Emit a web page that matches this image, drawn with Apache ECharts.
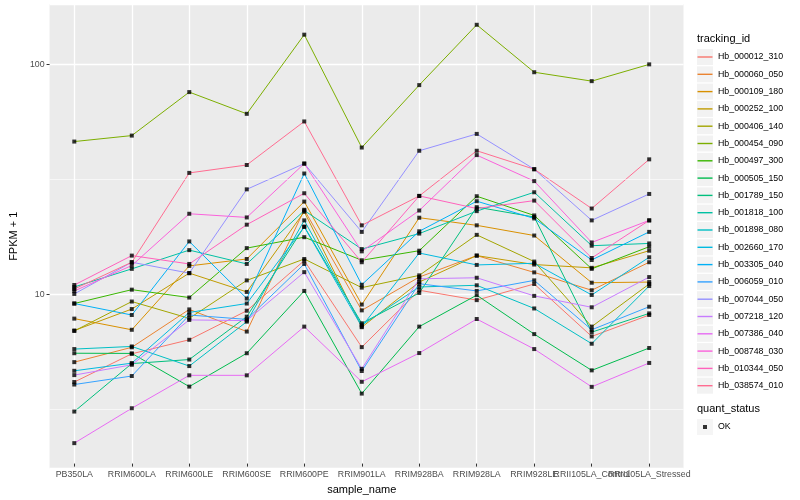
<!DOCTYPE html>
<html><head><meta charset="utf-8">
<script src="https://cdn.jsdelivr.net/npm/echarts@6/dist/echarts.min.js"></script>
<style>html,body{margin:0;padding:0;background:#fff}#c{width:800px;height:500px}</style>
</head><body><div id="c"></div>
<script>
const categories = ['PB350LA','RRIM600LA','RRIM600LE','RRIM600SE','RRIM600PE','RRIM901LA','RRIM928BA','RRIM928LA','RRIM928LE','RRII105LA_Control','RRII105LA_Stressed'];
const trackingIds = ['Hb_000012_310','Hb_000060_050','Hb_000109_180','Hb_000252_100','Hb_000406_140','Hb_000454_090','Hb_000497_300','Hb_000505_150','Hb_001789_150','Hb_001818_100','Hb_001898_080','Hb_002660_170','Hb_003305_040','Hb_006059_010','Hb_007044_050','Hb_007218_120','Hb_007386_040','Hb_008748_030','Hb_010344_050','Hb_038574_010'];
const colors = ['#F8766D','#EA8331','#D89000','#C09B00','#A3A500','#7CAE00','#39B600','#00BB4E','#00BF7D','#00C1A3','#00BFC4','#00BAE0','#00B0F6','#35A2FF','#9590FF','#C77CFF','#E76BF3','#FA62DB','#FF62BC','#FF6C91'];

// FPKM + 1 per sample, in category order
const Hb_000012_310 = [3.99, 5.31, 6.12, 8.21, 13.64, 5.68, 10.10, 9.14, 10.76, 6.33, 7.86];
const Hb_000060_050 = [4.88, 5.67, 8.32, 6.65, 22.8, 8.24, 11.54, 14.34, 12.10, 10.10, 13.41];
const Hb_000109_180 = [7.58, 6.77, 12.92, 13.86, 24.77, 8.74, 21.04, 19.48, 17.57, 10.90, 10.97];
const Hb_000252_100 = [6.72, 8.35, 12.01, 9.93, 22.35, 6.95, 10.97, 14.34, 13.10, 12.67, 15.07];
const Hb_000406_140 = [6.69, 9.01, 7.60, 11.16, 13.86, 10.37, 11.74, 17.69, 13.50, 6.99, 10.76];
const Hb_000454_090 = [45.47, 48.3, 75.0, 60.2, 134.1, 42.8, 80.5, 148.2, 91.7, 83.8, 99.3];
const Hb_000497_300 = [8.83, 10.16, 9.38, 15.47, 17.28, 13.68, 15.07, 26.15, 21.53, 12.54, 15.69];
const Hb_000505_150 = [5.34, 5.33, 3.81, 5.34, 10.03, 3.55, 6.99, 9.61, 6.48, 4.49, 5.63];
const Hb_001789_150 = [2.96, 4.81, 5.01, 7.73, 19.23, 7.23, 9.83, 23.42, 21.19, 6.61, 7.99];
const Hb_001818_100 = [10.44, 12.54, 15.16, 13.18, 22.63, 15.32, 17.92, 22.49, 27.22, 15.85, 16.22];
const Hb_001898_080 = [5.57, 5.72, 4.69, 7.35, 20.48, 7.10, 10.44, 10.62, 8.40, 5.88, 10.54];
const Hb_002660_170 = [4.47, 4.83, 8.07, 8.83, 19.17, 6.99, 14.72, 13.05, 13.27, 9.63, 14.10];
const Hb_003305_040 = [8.83, 7.86, 16.55, 9.29, 32.91, 10.68, 18.34, 24.87, 20.89, 13.72, 18.23];
const Hb_006059_010 = [3.89, 4.24, 7.86, 7.52, 13.18, 4.46, 10.79, 10.03, 11.16, 6.77, 8.55];
const Hb_007044_050 = [9.73, 13.41, 12.01, 28.04, 36.38, 18.23, 41.43, 49.13, 34.37, 20.48, 26.76];
const Hb_007218_120 = [4.28, 4.75, 7.48, 7.43, 12.13, 4.56, 11.34, 11.46, 9.54, 8.50, 11.54];
const Hb_007386_040 = [2.15, 3.06, 4.27, 4.27, 6.99, 4.00, 5.35, 7.55, 5.57, 3.80, 4.84];
const Hb_008748_030 = [10.03, 12.97, 21.9, 21.1, 36.38, 14.97, 22.63, 39.65, 30.47, 16.38, 20.48];
const Hb_010344_050 = [10.65, 14.34, 13.18, 19.61, 26.95, 13.41, 26.23, 23.09, 25.02, 14.0, 20.48];
const Hb_038574_010 = [10.23, 13.41, 33.11, 35.87, 55.73, 19.48, 26.23, 41.43, 34.37, 23.09, 37.98];

const seriesValues = [Hb_000012_310, Hb_000060_050, Hb_000109_180, Hb_000252_100, Hb_000406_140, Hb_000454_090, Hb_000497_300, Hb_000505_150, Hb_001789_150, Hb_001818_100, Hb_001898_080, Hb_002660_170, Hb_003305_040, Hb_006059_010, Hb_007044_050, Hb_007218_120, Hb_007386_040, Hb_008748_030, Hb_010344_050, Hb_038574_010];
const quantStatus = ['OK'];
const yRange = [1.748, 182.9];
const minorBreaks = [3.162, 31.62];

const FONT = 'Liberation Sans';
const chart = echarts.init(document.getElementById('c'), null, {renderer: 'canvas'});

const lineSeries = trackingIds.map((name, i) => ({
  name: name, type: 'line', xAxisIndex: 1, yAxisIndex: 1,
  data: seriesValues[i], symbol: 'none', showSymbol: false, silent: true,
  lineStyle: {color: colors[i], width: 1}, itemStyle: {color: colors[i]}, z: 3
}));
const pointData = [];
seriesValues.forEach(arr => arr.forEach((v, j) => pointData.push([j, v])));

const legendBase = {
  orient: 'vertical', left: 697, padding: 0, itemGap: 1.3, itemWidth: 16, itemHeight: 16,
  selectedMode: false
};

const option = {
  animation: false,
  backgroundColor: '#ffffff',
  textStyle: {fontFamily: FONT},
  title: [
    {text: 'tracking_id', left: 697, top: 33, padding: 0, textStyle: {fontSize: 11, fontWeight: 'normal', color: '#000', fontFamily: FONT}},
    {text: 'quant_status', left: 697, top: 403, padding: 0, textStyle: {fontSize: 11, fontWeight: 'normal', color: '#000', fontFamily: FONT}}
  ],
  grid: [
    {left: 40, right: 116.5, top: 4, height: 464.5, show: true, backgroundColor: '#EBEBEB', borderWidth: 0},
    {left: 74.3, right: 150.8, top: 4, height: 464.5, show: false}
  ],
  xAxis: [
    {gridIndex: 0, type: 'value', min: 0, max: 1, show: false},
    {gridIndex: 1, type: 'category', data: categories, boundaryGap: false,
     axisLine: {show: false},
     axisTick: {show: true, length: 3, interval: 0, lineStyle: {color: '#333333', width: 1}},
     axisLabel: {interval: 0, margin: 6.5, color: '#4D4D4D', fontSize: 8.8, fontFamily: FONT},
     splitLine: {show: true, interval: 0, lineStyle: {color: '#ffffff', width: 1.3}},
     name: 'sample_name', nameLocation: 'middle', nameGap: 15,
     nameTextStyle: {color: '#000', fontSize: 11, fontFamily: FONT}}
  ],
  yAxis: [
    {gridIndex: 0, type: 'log', logBase: 10, min: yRange[0], max: yRange[1],
     axisLine: {show: false},
     axisTick: {show: true, length: 3, lineStyle: {color: '#333333', width: 1}},
     axisLabel: {margin: 5, color: '#4D4D4D', fontSize: 8.8, fontFamily: FONT, showMinLabel: false, showMaxLabel: false},
     splitLine: {show: true, lineStyle: {color: '#ffffff', width: 1.3}},
     name: 'FPKM + 1', nameLocation: 'middle', nameGap: 22, nameRotate: 90,
     nameTextStyle: {color: '#000', fontSize: 11, fontFamily: FONT}},
    {gridIndex: 1, type: 'log', logBase: 10, min: yRange[0], max: yRange[1], show: false}
  ],
  legend: [
    Object.assign({}, legendBase, {top: 49, icon: 'rect', data: trackingIds, z: 3,
      itemStyle: {color: '#F2F2F2', borderWidth: 0},
      textStyle: {color: 'rgba(0,0,0,0)', fontSize: 8.8, fontFamily: FONT}}),
    Object.assign({}, legendBase, {top: 49, icon: 'path://M0,0M16,16M0.5,7.3h15v1.4h-15z', data: trackingIds, z: 4,
      itemStyle: {borderWidth: 0},
      textStyle: {color: '#000', fontSize: 8.8, fontFamily: FONT}}),
    Object.assign({}, legendBase, {top: 419, icon: 'rect', data: quantStatus, z: 3,
      itemStyle: {color: '#F2F2F2', borderWidth: 0},
      textStyle: {color: 'rgba(0,0,0,0)', fontSize: 8.8, fontFamily: FONT}}),
    Object.assign({}, legendBase, {top: 419, icon: 'path://M0,0M16,16M6,6h4v4h-4z', data: quantStatus, z: 4,
      itemStyle: {borderWidth: 0},
      textStyle: {color: '#000', fontSize: 8.8, fontFamily: FONT}})
  ],
  series: [
    {type: 'line', name: '_minor', xAxisIndex: 0, yAxisIndex: 0, data: [], silent: true, z: 1,
     markLine: {silent: true, symbol: ['none', 'none'], label: {show: false}, animation: false,
       lineStyle: {color: '#ffffff', width: 0.6, type: 'solid'},
       data: minorBreaks.map(v => ({yAxis: v}))}}
  ].concat(lineSeries).concat([
    {type: 'scatter', name: 'OK', xAxisIndex: 1, yAxisIndex: 1, data: pointData,
     symbol: 'rect', symbolSize: 4, itemStyle: {color: '#000000'}, silent: true, z: 5}
  ])
};
chart.setOption(option);
</script>
</body></html>
